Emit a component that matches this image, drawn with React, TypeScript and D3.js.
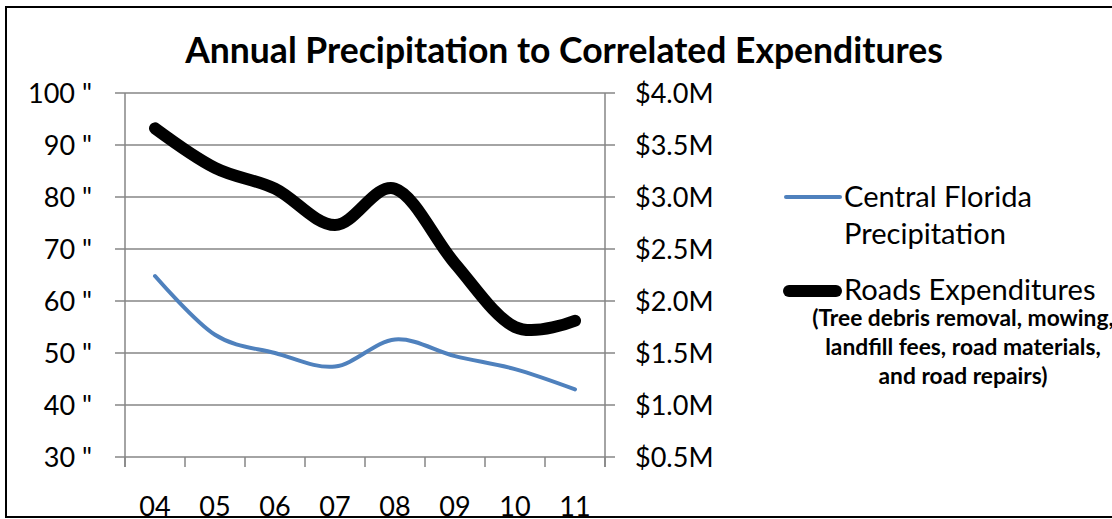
import React, { useRef, useEffect } from "react";
import * as d3 from "d3";

const years = ["04", "05", "06", "07", "08", "09", "10", "11"];
const precipitation = [64.8, 53.5, 50, 47.4, 52.6, 49.4, 46.9, 43];
const expenditures = [3.66, 3.28, 3.08, 2.73, 3.08, 2.36, 1.75, 1.81]; // $M
const leftTicks = [30, 40, 50, 60, 70, 80, 90, 100];
const rightTicks = [0.5, 1.0, 1.5, 2.0, 2.5, 3.0, 3.5, 4.0];

const FONT = "Lato, 'Open Sans', sans-serif";
const GRID = "#868686";

// scale a text element's font so its width hits the target
const fitSize = (node: SVGTextElement, target: number) => {
  node.setAttribute("font-size", "100");
  const len = node.getComputedTextLength();
  return len ? (100 * target) / len : 20;
};

const App = () => {
  const svgRef = useRef<SVGSVGElement>(null);

  useEffect(() => {
    const width = 1112;
    const height = 519;
    const margin = { top: 93, left: 125, right: 507, bottom: 62 };
    const innerWidth = width - margin.left - margin.right;
    const innerHeight = height - margin.top - margin.bottom;

    const svg = d3.select(svgRef.current);
    svg.selectAll("*").remove();
    svg.attr("width", width).attr("height", height);

    svg
      .append("rect")
      .attr("width", width)
      .attr("height", height)
      .attr("fill", "#fff");

    // title
    const title = svg
      .append("text")
      .attr("x", 564)
      .attr("y", 63)
      .attr("text-anchor", "middle")
      .attr("font-family", FONT)
      .attr("font-weight", "bold")
      .text("Annual Precipitation to Correlated Expenditures");
    title.attr("font-size", fitSize(title.node() as SVGTextElement, 758));

    const g = svg
      .append("g")
      .attr("transform", `translate(${margin.left},${margin.top})`);

    const x = d3.scaleBand().domain(years).range([0, innerWidth]);
    const yLeft = d3.scaleLinear().domain([30, 100]).range([innerHeight, 0]);
    const yRight = d3.scaleLinear().domain([0.5, 4.0]).range([innerHeight, 0]);

    // gridlines
    g.selectAll(".grid")
      .data(leftTicks)
      .enter()
      .append("line")
      .attr("x1", -10)
      .attr("x2", innerWidth + 10)
      .attr("y1", (d) => yLeft(d))
      .attr("y2", (d) => yLeft(d))
      .attr("stroke", GRID)
      .attr("stroke-width", 1.5);

    // axis lines
    g.append("line")
      .attr("x1", 0)
      .attr("x2", 0)
      .attr("y1", 0)
      .attr("y2", innerHeight + 10)
      .attr("stroke", GRID)
      .attr("stroke-width", 1.5);
    g.append("line")
      .attr("x1", innerWidth)
      .attr("x2", innerWidth)
      .attr("y1", 0)
      .attr("y2", innerHeight + 10)
      .attr("stroke", GRID)
      .attr("stroke-width", 1.5);

    // category ticks
    const edges = years.map((d) => x(d) as number).concat([innerWidth]);
    g.selectAll(".xtick")
      .data(edges)
      .enter()
      .append("line")
      .attr("x1", (d) => d)
      .attr("x2", (d) => d)
      .attr("y1", innerHeight)
      .attr("y2", innerHeight + 10)
      .attr("stroke", GRID)
      .attr("stroke-width", 1.5);

    // left tick labels
    const probe = g
      .append("text")
      .attr("font-family", FONT)
      .text('100 "');
    const tickSize = fitSize(probe.node() as SVGTextElement, 64);
    probe.remove();

    g.selectAll(".lt")
      .data(leftTicks)
      .enter()
      .append("text")
      .attr("x", -33)
      .attr("y", (d) => yLeft(d))
      .attr("dy", "0.36em")
      .attr("text-anchor", "end")
      .attr("font-family", FONT)
      .attr("font-size", tickSize)
      .text((d) => `${d} "`);

    g.selectAll(".rt")
      .data(rightTicks)
      .enter()
      .append("text")
      .attr("x", innerWidth + 30)
      .attr("y", (d) => yRight(d))
      .attr("dy", "0.36em")
      .attr("font-family", FONT)
      .attr("font-size", tickSize)
      .text((d) => `$${d.toFixed(1)}M`);

    g.selectAll(".xl")
      .data(years)
      .enter()
      .append("text")
      .attr("x", (d) => (x(d) as number) + x.bandwidth() / 2)
      .attr("y", innerHeight + 59)
      .attr("text-anchor", "middle")
      .attr("font-family", FONT)
      .attr("font-size", tickSize)
      .text((d) => d);

    // lines
    const cx = (i: number) => (x(years[i]) as number) + x.bandwidth() / 2;
    const curve = d3.curveCardinal.tension(0);

    const precipLine = d3
      .line<number>()
      .x((_, i) => cx(i))
      .y((d) => yLeft(d))
      .curve(curve);

    const expLine = d3
      .line<number>()
      .x((_, i) => cx(i))
      .y((d) => yRight(d))
      .curve(curve);

    g.append("path")
      .datum(expenditures)
      .attr("fill", "none")
      .attr("stroke", "#000")
      .attr("stroke-width", 12)
      .attr("stroke-linecap", "round")
      .attr("stroke-linejoin", "round")
      .attr("d", expLine);

    g.append("path")
      .datum(precipitation)
      .attr("fill", "none")
      .attr("stroke", "#4F81BD")
      .attr("stroke-width", 4)
      .attr("stroke-linecap", "round")
      .attr("d", precipLine);

    // legend
    const legend = svg.append("g");

    legend
      .append("line")
      .attr("x1", 786)
      .attr("x2", 840)
      .attr("y1", 197)
      .attr("y2", 197)
      .attr("stroke", "#4F81BD")
      .attr("stroke-width", 4)
      .attr("stroke-linecap", "round");

    const l1 = legend
      .append("text")
      .attr("x", 844)
      .attr("y", 207)
      .attr("font-family", FONT)
      .text("Central Florida");
    const legSize = fitSize(l1.node() as SVGTextElement, 188);
    l1.attr("font-size", legSize);

    legend
      .append("text")
      .attr("x", 844)
      .attr("y", 244)
      .attr("font-family", FONT)
      .attr("font-size", legSize)
      .text("Precipitation");

    legend
      .append("line")
      .attr("x1", 789)
      .attr("x2", 836)
      .attr("y1", 291)
      .attr("y2", 291)
      .attr("stroke", "#000")
      .attr("stroke-width", 12)
      .attr("stroke-linecap", "round");

    legend
      .append("text")
      .attr("x", 844)
      .attr("y", 300)
      .attr("font-family", FONT)
      .attr("font-size", legSize)
      .text("Roads Expenditures");

    const notes = [
      "(Tree debris removal, mowing,",
      "landfill fees, road materials,",
      "and road repairs)",
    ];
    const noteProbe = legend
      .append("text")
      .attr("font-family", FONT)
      .attr("font-weight", "bold")
      .text(notes[2]);
    const noteSize = fitSize(noteProbe.node() as SVGTextElement, 169);
    noteProbe.remove();

    legend
      .selectAll(".note")
      .data(notes)
      .enter()
      .append("text")
      .attr("x", 963)
      .attr("y", (_, i) => 326 + i * 29)
      .attr("text-anchor", "middle")
      .attr("font-family", FONT)
      .attr("font-weight", "bold")
      .attr("font-size", noteSize)
      .text((d) => d);

    // chart frame, drawn last so it sits over the clipped year labels
    svg
      .append("rect")
      .attr("x", 6)
      .attr("y", 7)
      .attr("width", width + 10)
      .attr("height", 510)
      .attr("fill", "none")
      .attr("stroke", "#000")
      .attr("stroke-width", 2);
  }, []);

  return (
    <div style={{ position: "absolute", left: 0, top: 0 }}>
      <svg ref={svgRef} style={{ display: "block" }} />
    </div>
  );
};

export default App;
